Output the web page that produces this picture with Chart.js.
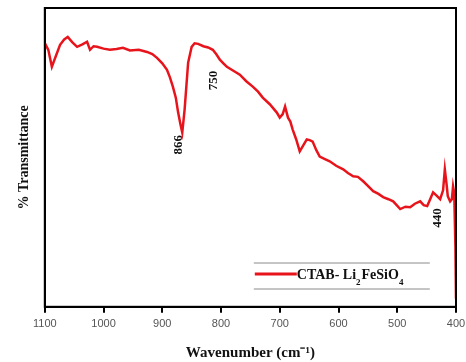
<!DOCTYPE html>
<html>
<head>
<meta charset="utf-8">
<script src="https://cdn.jsdelivr.net/npm/chart.js@4.4.0/dist/chart.umd.min.js"></script>
<style>
  body { margin: 0; background: #fff; }
  #wrap { width: 466px; height: 362px; }
</style>
</head>
<body>
<div id="wrap"><canvas id="ftirChart"></canvas></div>
<script>
// wavenumber (cm-1)
const wavenumbers = [1100, 1094, 1088, 1081, 1074, 1067, 1061, 1053, 1045, 1036, 1028, 1023, 1017, 1011, 1000, 989, 978, 967, 955, 940, 926, 917, 909, 900, 892, 887, 882, 877, 873, 869, 866, 862, 856, 850, 845, 839, 830, 822, 814, 808, 802, 796, 790, 779, 768, 757, 746, 737, 729, 717, 705, 700, 695, 691, 686, 682, 678, 672, 666, 660, 654, 649, 644, 638, 632, 624, 615, 604, 592, 584, 575, 567, 558, 550, 541, 532, 524, 515, 507, 501, 495, 486, 478, 470, 461, 455, 449, 444, 439, 433, 427, 422, 419, 416, 414, 410, 407, 405, 403, 401, 400];
// % transmittance (arbitrary units, no y ticks in the original)
const transmittance = [88.3, 86, 80.3, 84, 87.7, 89.5, 90.3, 88.5, 87, 87.8, 88.7, 86, 87.2, 87, 86.4, 86, 86.3, 86.7, 85.8, 86, 85.3, 84.6, 83.3, 81.5, 79.3, 76.8, 73.7, 70, 65, 61, 58.3, 66, 81.7, 87, 88.2, 88, 87.2, 86.8, 86, 84.5, 82.7, 81.5, 80.3, 79, 77.7, 75.5, 73.7, 72, 70, 67.8, 65, 63.3, 64.5, 67, 63.3, 62, 59.3, 56, 52, 54, 56, 55.8, 55.3, 52.5, 50.3, 49.5, 48.7, 47.2, 46, 44.8, 43.7, 43.5, 42, 40.5, 38.7, 37.8, 36.7, 36, 35.3, 34, 32.7, 33.5, 33.3, 34.5, 35.3, 34, 33.7, 36, 38.3, 37.2, 36, 39, 46, 41, 37, 35.3, 36, 40.3, 38, 20, 2.7];
const seriesLabel = 'CTAB- Li2FeSiO4';
const xTicks = [1100, 1000, 900, 800, 700, 600, 500, 400];
// peak annotations: text, anchor wavenumber, anchor value
const peakText = ['866', '750', '440'];
const peakAt = [872, 812, 431];
const peakVal = [57.5, 79, 33];

const points = wavenumbers.map((w, i) => ({ x: w, y: transmittance[i] }));

const serif = "'Liberation Serif', 'Times New Roman', serif";

// frame, peak labels and the boxed legend drawn over the chart area
const extras = {
  id: 'extras',
  afterDraw(chart) {
    const { ctx, chartArea: a, scales } = chart;
    ctx.save();
    ctx.strokeStyle = '#000';
    ctx.lineWidth = 2;
    ctx.strokeRect(a.left, a.top, a.right - a.left, a.bottom - a.top);

    ctx.fillStyle = '#111';
    ctx.font = 'bold 13px ' + serif;
    ctx.textBaseline = 'middle';
    ctx.textAlign = 'left';
    peakText.forEach((t, i) => {
      const px = scales.x.getPixelForValue(peakAt[i]);
      const py = scales.y.getPixelForValue(peakVal[i]);
      ctx.save();
      ctx.translate(px, py);
      ctx.rotate(-Math.PI / 2);
      ctx.fillText(t, -ctx.measureText(t).width, 0);
      ctx.restore();
    });

    // legend
    const lx = a.left + 209, ly = a.top + 255;
    ctx.strokeStyle = '#8a8a8a';
    ctx.lineWidth = 1;
    ctx.beginPath();
    ctx.moveTo(lx, ly); ctx.lineTo(lx + 176, ly);
    ctx.moveTo(lx, ly + 26); ctx.lineTo(lx + 176, ly + 26);
    ctx.stroke();
    ctx.strokeStyle = '#e8141c';
    ctx.lineWidth = 3;
    ctx.beginPath();
    ctx.moveTo(lx + 1, ly + 11); ctx.lineTo(lx + 43, ly + 11);
    ctx.stroke();
    ctx.fillStyle = '#111';
    ctx.textBaseline = 'alphabetic';
    const parts = [['CTAB- Li', false], ['2', true], ['FeSiO', false], ['4', true]];
    let tx = lx + 43;
    parts.forEach(([s, sub]) => {
      ctx.font = sub ? 'bold 9px ' + serif : 'bold 14px ' + serif;
      ctx.fillText(s, tx, sub ? ly + 22 : ly + 16);
      tx += ctx.measureText(s).width + (sub ? 1 : 0);
    });
    ctx.restore();
  }
};

new Chart(document.getElementById('ftirChart'), {
  type: 'line',
  data: {
    datasets: [{
      label: seriesLabel,
      data: points,
      borderColor: '#e8141c',
      borderWidth: 2.5,
      pointRadius: 0,
      tension: 0,
      fill: false
    }]
  },
  options: {
    responsive: true,
    maintainAspectRatio: false,
    animation: false,
    layout: { padding: { left: 16, right: 10, top: 8, bottom: 0 } },
    plugins: { legend: { display: false }, tooltip: { enabled: false } },
    scales: {
      x: {
        type: 'linear',
        reverse: true,
        min: 400,
        max: 1100,
        afterBuildTicks: s => { s.ticks = xTicks.map(v => ({ value: v })); },
        afterFit: s => { s.paddingRight = 0; s.paddingLeft = 0; },
        ticks: {
          color: '#555',
          font: { family: "'Liberation Sans', Arial, sans-serif", size: 11 },
          padding: 5,
          maxRotation: 0,
          callback: v => String(v)
        },
        grid: { display: true, drawOnChartArea: false, drawTicks: true, tickLength: 6, color: '#000', lineWidth: 2 },
        border: { display: true, color: '#000', width: 2 },
        title: {
          display: true,
          text: 'Wavenumber (cm\u207B\u00B9)',
          color: '#111',
          font: { family: serif, size: 15, weight: 'bold' },
          padding: { top: 8, bottom: 0 }
        }
      },
      y: {
        min: 0,
        max: 100,
        ticks: { display: false },
        grid: { display: false, drawTicks: false },
        border: { display: true, color: '#000', width: 2 },
        title: {
          display: true,
          text: '% Transmittance',
          color: '#111',
          font: { family: serif, size: 14, weight: 'bold' },
          padding: { top: 0, bottom: 12 }
        }
      }
    }
  },
  plugins: [extras]
});
</script>
</body>
</html>
